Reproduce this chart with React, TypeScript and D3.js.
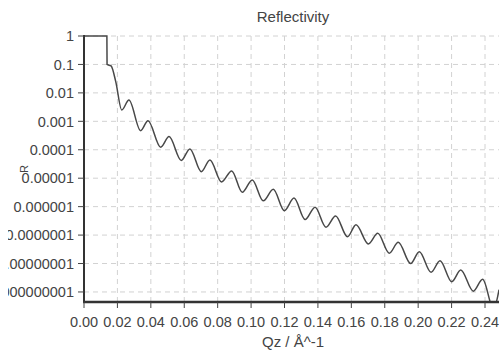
import React from "react";
import * as d3 from "d3";

const qValues = [
  0, 0.0137, 0.0138, 0.0162, 0.019, 0.0226, 0.0269, 0.0339, 0.0383, 0.0459,
  0.0509, 0.0582, 0.0634, 0.0702, 0.0754, 0.0823, 0.0884, 0.0947, 0.1007,
  0.1073, 0.1133, 0.1199, 0.1257, 0.1323, 0.1383, 0.1448, 0.1506, 0.1577,
  0.1628, 0.1702, 0.1758, 0.1827, 0.1881, 0.1955, 0.2007, 0.2077, 0.2131,
  0.2201, 0.2255, 0.233, 0.2386, 0.2451, 0.2484,
];
const rValues = [
  1, 1, 0.1, 0.089, 0.025, 2.5e-3, 5.6e-3, 4.7e-4, 1.05e-3, 1.23e-4, 2.9e-4,
  4.2e-5, 1.07e-4, 1.7e-5, 4.4e-5, 7.4e-6, 1.8e-5, 3.2e-6, 8.7e-6, 1.6e-6,
  4.1e-6, 7.2e-7, 2.0e-6, 3.5e-7, 9.5e-7, 1.9e-7, 4.7e-7, 8.7e-8, 2.3e-7,
  4.9e-8, 1.15e-7, 2.3e-8, 5.6e-8, 1.0e-8, 2.6e-8, 4.9e-9, 1.26e-8, 2.3e-9,
  5.9e-9, 1.07e-9, 2.8e-9, 2.5e-10, 1.2e-9,
];
const xTicks = [0, 0.02, 0.04, 0.06, 0.08, 0.1, 0.12, 0.14, 0.16, 0.18, 0.2, 0.22, 0.24];
const yTicks = [1, 0.1, 0.01, 0.001, 0.0001, 0.00001, 0.000001, 0.0000001, 0.00000001, 0.000000001];
const yTickLabels = [
  "1", "0.1", "0.01", "0.001", "0.0001", "0.00001", "0.000001", "0.0000001",
  "0.00000001", "0.000000001",
];
const title = "Reflectivity";
const xLabel = "Qz / Å^-1";
const yLabel = "R";

const W = 499;
const H = 351;
const left = 84;
const top = 36;
const bottom = 302;
const font = "'Liberation Sans', Arial, sans-serif";

export default function App() {
  const x = d3.scaleLinear().domain([0, 0.24]).range([left, 485]);
  const y = d3
    .scaleLog()
    .domain([Math.pow(10, -9.353), 1])
    .range([bottom, top]);
  const pts: [number, number][] = qValues.map((q, i) => [q, rValues[i]]);
  const line = d3
    .line<[number, number]>()
    .x((d) => x(d[0]))
    .y((d) => y(d[1]))
    .curve(d3.curveMonotoneX);

  return (
    <svg
      width={W}
      height={H}
      style={{ position: "absolute", left: 0, top: 0, background: "#fff" }}
      fontFamily={font}
    >
      <defs>
        <clipPath id="plotclip">
          <rect x={left} y={top - 3} width={W - left} height={bottom - top + 3} />
        </clipPath>
        <clipPath id="labelclip">
          <rect x={8} y={0} width={W - 8} height={H} />
        </clipPath>
      </defs>
      <rect x={0} y={0} width={W} height={H} fill="#fff" />
      {/* grid */}
      <g stroke="#d2d2d2" strokeWidth={1} strokeDasharray="5,4">
        {yTicks.map((t, i) => (
          <line key={"gy" + i} x1={left} x2={W} y1={y(t)} y2={y(t)} />
        ))}
        {xTicks.slice(1).map((t, i) => (
          <line key={"gx" + i} x1={x(t)} x2={x(t)} y1={top} y2={bottom} />
        ))}
      </g>
      {/* data line */}
      <g clipPath="url(#plotclip)">
        <path d={line(pts) || ""} fill="none" stroke="#484848" strokeWidth={1.5} />
      </g>
      {/* axes */}
      <line x1={left} x2={left} y1={top - 1} y2={bottom} stroke="#333" strokeWidth={2} />
      <line x1={left - 1} x2={W} y1={bottom} y2={bottom} stroke="#333" strokeWidth={2.5} />
      <g clipPath="url(#labelclip)">
        {yTicks.map((t, i) => (
          <g key={"yt" + i}>
            <line x1={left - 6} x2={left} y1={y(t)} y2={y(t)} stroke="#444" strokeWidth={1} />
            <text
              x={74}
              y={y(t)}
              dy="0.36em"
              textAnchor="end"
              fontSize={14.5}
              fill="#444"
            >
              {yTickLabels[i]}
            </text>
          </g>
        ))}
      </g>
      {xTicks.map((t, i) => (
        <g key={"xt" + i}>
          <line x1={x(t)} x2={x(t)} y1={bottom} y2={bottom + 6} stroke="#444" strokeWidth={1} />
          <text x={x(t)} y={326.5} textAnchor="middle" fontSize={14.5} fill="#444">
            {t.toFixed(2)}
          </text>
        </g>
      ))}
      <text x={293} y={21.5} textAnchor="middle" fontSize={15} fill="#444">
        {title}
      </text>
      <text x={293} y={347} textAnchor="middle" fontSize={15} fill="#444">
        {xLabel}
      </text>
      <text
        transform="translate(28,169) rotate(-90)"
        textAnchor="middle"
        fontSize={11}
        fill="#444"
      >
        {yLabel}
      </text>
    </svg>
  );
}
